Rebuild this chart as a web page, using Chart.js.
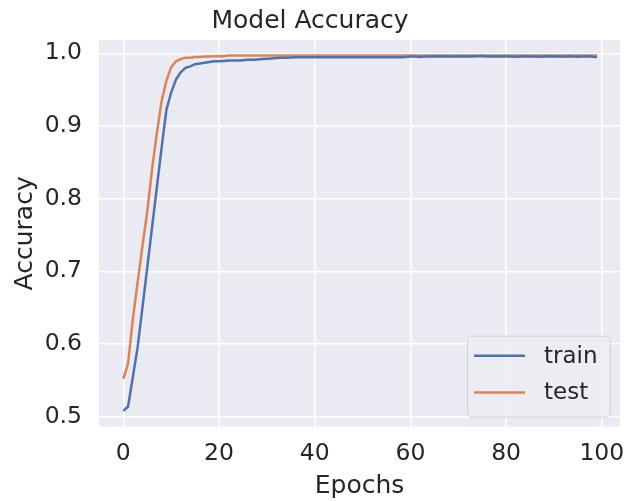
<!DOCTYPE html>
<html>
<head>
<meta charset="utf-8">
<script src="https://cdn.jsdelivr.net/npm/chart.js@4.4.1/dist/chart.umd.min.js"></script>
<style>
    body { margin: 0; background: #ffffff; }
    #chart { display: block; }
</style>
</head>
<body>
<canvas id="chart" width="639" height="501"></canvas>
<script>
// values
const epochs = Array.from({ length: 100 }, (_, i) => i);
const trainAcc = [
    0.508, 0.514, 0.555, 0.596, 0.650, 0.705, 0.760, 0.815, 0.870, 0.922,
    0.946, 0.964, 0.974, 0.980, 0.982, 0.985, 0.986, 0.987, 0.988, 0.989,
    0.989, 0.9895, 0.990, 0.990, 0.990, 0.9905, 0.991, 0.991, 0.9915, 0.992,
    0.9925, 0.993, 0.9935, 0.994, 0.994, 0.9943, 0.9945, 0.9945, 0.9945, 0.9945,
    0.9945, 0.9945, 0.9945, 0.9945, 0.9945, 0.9945, 0.9945, 0.9945, 0.9945, 0.9945,
    0.9945, 0.9945, 0.9945, 0.9945, 0.9945, 0.9945, 0.9945, 0.9945, 0.9945, 0.9948,
    0.9955, 0.9955, 0.995, 0.9955, 0.9955, 0.9955, 0.9958, 0.9955, 0.9955, 0.9955,
    0.9955, 0.9958, 0.9955, 0.9955, 0.9958, 0.996, 0.9955, 0.9955, 0.9958, 0.9955,
    0.9955, 0.9955, 0.9952, 0.9955, 0.9958, 0.9955, 0.9955, 0.9952, 0.9955, 0.9958,
    0.9955, 0.9955, 0.9952, 0.996, 0.9955, 0.9952, 0.9955, 0.9958, 0.9952, 0.995
];
const testAcc = [
    0.552, 0.573, 0.635, 0.685, 0.735, 0.782, 0.840, 0.890, 0.934, 0.962,
    0.981, 0.989, 0.992, 0.994, 0.994, 0.995, 0.995, 0.9955, 0.9955, 0.996,
    0.996, 0.996, 0.997, 0.997, 0.997, 0.997, 0.997, 0.997, 0.997, 0.997,
    0.997, 0.997, 0.997, 0.997, 0.997, 0.997, 0.997, 0.997, 0.997, 0.997,
    0.997, 0.997, 0.997, 0.997, 0.997, 0.997, 0.997, 0.997, 0.997, 0.997,
    0.997, 0.997, 0.997, 0.997, 0.997, 0.997, 0.997, 0.997, 0.997, 0.997,
    0.997, 0.997, 0.997, 0.997, 0.997, 0.997, 0.997, 0.997, 0.997, 0.997,
    0.997, 0.997, 0.997, 0.997, 0.997, 0.9972, 0.997, 0.997, 0.997, 0.997,
    0.997, 0.997, 0.997, 0.997, 0.997, 0.997, 0.997, 0.997, 0.997, 0.997,
    0.997, 0.997, 0.997, 0.997, 0.997, 0.997, 0.997, 0.997, 0.997, 0.997
];
const xTicks = [0, 20, 40, 60, 80, 100];
const yTicks = [0.5, 0.6, 0.7, 0.8, 0.9, 1.0];

const textColor = '#262626';
const fontFamily = "'DejaVu Sans', sans-serif";

const plotBackground = {
    id: 'plotBackground',
    beforeDraw(chart) {
        const { ctx, chartArea } = chart;
        ctx.save();
        ctx.fillStyle = '#EAEAF2';
        ctx.fillRect(chartArea.left, chartArea.top, chartArea.right - chartArea.left, chartArea.bottom - chartArea.top);
        ctx.restore();
    }
};

// legend box in the lower right corner of the plot, like matplotlib's 'best'
const boxLegend = {
    id: 'boxLegend',
    afterDraw(chart) {
        const { ctx, chartArea } = chart;
        const w = 143, h = 81;
        const x = chartArea.right - 10 - w;
        const y = chartArea.bottom - 10 - h;
        ctx.save();
        ctx.fillStyle = 'rgba(236,236,243,0.85)';
        ctx.strokeStyle = '#d2d2da';
        ctx.lineWidth = 1;
        ctx.beginPath();
        ctx.roundRect(x + 0.5, y + 0.5, w, h, 5);
        ctx.fill();
        ctx.stroke();
        ctx.font = '23px ' + fontFamily;
        ctx.textBaseline = 'middle';
        chart.data.datasets.forEach((ds, i) => {
            const ly = y + 20 + i * 36.7;
            ctx.strokeStyle = ds.borderColor;
            ctx.lineWidth = 2.5;
            ctx.beginPath();
            ctx.moveTo(x + 7, ly);
            ctx.lineTo(x + 58, ly);
            ctx.stroke();
            ctx.fillStyle = textColor;
            ctx.fillText(ds.label, x + 77, ly + 1);
        });
        ctx.restore();
    }
};

new Chart(document.getElementById('chart'), {
    type: 'line',
    data: {
        datasets: [
            {
                label: 'train',
                data: epochs.map((e, i) => ({ x: e, y: trainAcc[i] })),
                borderColor: '#4C72B0',
                borderWidth: 2.5,
                pointRadius: 0,
                tension: 0
            },
            {
                label: 'test',
                data: epochs.map((e, i) => ({ x: e, y: testAcc[i] })),
                borderColor: '#DD8452',
                borderWidth: 2.5,
                pointRadius: 0,
                tension: 0
            }
        ]
    },
    options: {
        responsive: false,
        animation: false,
        layout: { padding: { left: 0, right: 19, top: 0, bottom: 0 } },
        plugins: {
            legend: { display: false },
            tooltip: { enabled: false },
            title: {
                display: true,
                text: 'Model Accuracy',
                color: textColor,
                font: { family: fontFamily, size: 25, weight: 'normal' },
                padding: { top: 6, bottom: 4 }
            }
        },
        scales: {
            x: {
                type: 'linear',
                min: -5.08,
                max: 103.8,
                afterBuildTicks: (scale) => { scale.ticks = xTicks.map(v => ({ value: v })); },
                afterFit: (scale) => { scale.height = 74.3; },
                grid: { color: '#ffffff', lineWidth: 1.5, drawTicks: false },
                border: { display: false },
                ticks: {
                    color: textColor,
                    font: { family: fontFamily, size: 23.5 },
                    padding: 13,
                    maxRotation: 0
                },
                title: {
                    display: true,
                    text: 'Epochs',
                    color: textColor,
                    font: { family: fontFamily, size: 25 },
                    padding: { top: 0, bottom: 0 }
                }
            },
            y: {
                type: 'linear',
                min: 0.4862,
                max: 1.0183,
                afterBuildTicks: (scale) => { scale.ticks = yTicks.map(v => ({ value: v })); },
                afterFit: (scale) => { scale.width = 99; },
                grid: { color: '#ffffff', lineWidth: 1.5, drawTicks: false },
                border: { display: false },
                ticks: {
                    color: textColor,
                    font: { family: fontFamily, size: 23.5 },
                    padding: 17,
                    callback: (v) => v.toFixed(1)
                },
                title: {
                    display: true,
                    text: 'Accuracy',
                    color: textColor,
                    font: { family: fontFamily, size: 25 },
                    padding: { top: 10, bottom: 0 }
                }
            }
        }
    },
    plugins: [plotBackground, boxLegend]
});
</script>
</body>
</html>
